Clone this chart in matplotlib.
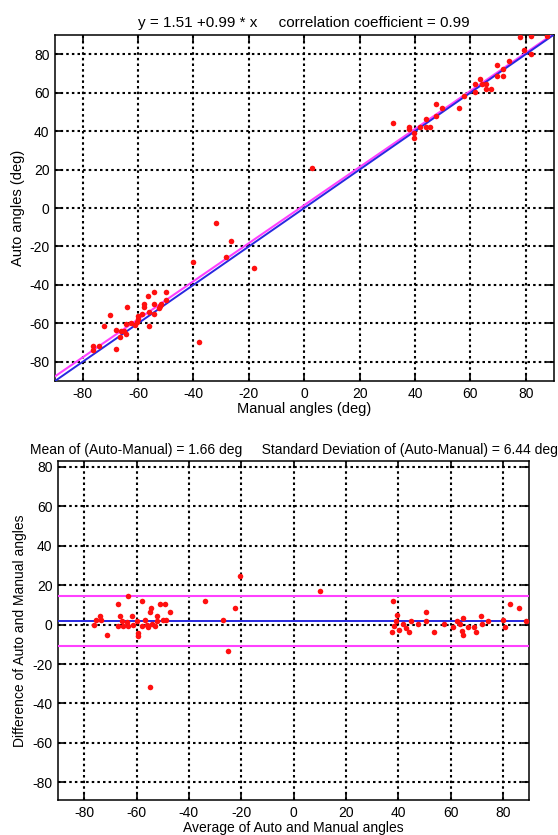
import matplotlib
matplotlib.use("Agg")
import matplotlib.pyplot as plt
import numpy as np

plt.rcParams['font.family'] = ['Liberation Sans', 'DejaVu Sans']

# ---------------- data: scatter (Manual vs Auto) ----------------
manual = [77.8, 81.7, 87.7, 79.5, 81.7, 73.8, 71.8, 69.6, 69.6, 71.8, 63.6, 61.5, 61.5,
          64.1, 65.7, 65.7, 67.5, 57.6, 55.8, 49.8, 47.7, 47.7, 44.1, 41.9, 44.1, 45.5,
          37.7, 37.7, 39.8, 39.8, 32.1, 2.8,
          -40.2, -28.3, -18.3, -38.0, -32.0, -26.4,
          -54.2, -50.0, -56.4, -58.0, -54.2, -51.8, -50.0, -58.0, -60.2, -56.0, -52.4,
          -54.2, -64.1, -70.0, -72.4, -68.1, -66.3, -64.5, -62.7, -60.5, -66.5, -64.5,
          -67.8, -76.2, -76.2, -74.2, -56.0, -58.5, -60.0, -65.0, -61.0, -52.0]
auto = [88.7, 89.5, 89.5, 82.2, 80.0, 76.5, 72.1, 74.2, 68.7, 68.7, 67.3, 64.3, 60.3,
        64.3, 64.3, 62.0, 62.0, 58.5, 52.1, 52.1, 54.3, 48.1, 46.4, 42.2, 42.2, 42.2,
        42.2, 40.9, 39.1, 36.5, 44.3, 20.9,
        -27.9, -25.4, -31.3, -69.6, -8.0, -17.0,
        -43.8, -43.8, -45.6, -50.0, -50.0, -50.0, -48.0, -51.7, -56.0, -54.0, -52.0,
        -55.0, -51.7, -55.5, -61.2, -63.5, -63.8, -60.3, -60.0, -59.5, -67.0, -65.6,
        -73.4, -71.7, -74.0, -71.7, -61.2, -55.0, -57.6, -64.0, -61.0, -51.0]

fit_intercept = 1.51
fit_slope = 0.99

# ---------------- data: Bland-Altman (average vs difference) ----------------
avg = [-20.4, -63.2, -67.0, -58.0, -51.0, -49.1, -47.2, -54.9, -54.3, -52.1, -66.3,
       -61.9, -74.0, -75.3, -73.4, -76.3, -67.0, -65.1, -63.2, -61.3, -58.0, -56.1,
       -54.2, -55.5, -53.0, -56.8, -49.8, -48.8, -65.7, -63.8, -52.3, -59.7, -71.2,
       -59.3, -59.3, -33.8, -22.4, -27.1, -24.9, -54.9, 10.1,
       37.9, 39.7, 39.2, 38.4, 37.6, 42.0, 43.0, 44.3, 44.8, 47.7, 50.7, 50.7, 53.7,
       57.6, 60.9, 62.6, 64.9, 63.7, 64.3, 64.7, 69.0, 69.8, 71.6, 72.0, 74.5, 82.8,
       86.0, 80.2, 80.9, 88.9, 40.5, 66.5]
diff = [24.5, 14.4, 10.2, 12.2, 10.2, 10.2, 6.4, 6.4, 8.4, 4.2, 4.2,
        4.2, 4.2, 2.5, 2.5, 0.0, -0.9, -0.9, -0.9, 0.0, -0.9, -0.3,
        0.3, -1.4, -0.9, 2.5, 2.5, 2.5, 1.7, 1.3, 1.7, 1.7, -5.4,
        -4.3, -5.9, 12.2, 8.4, 2.5, -13.2, -31.6, 17.0,
        12.2, 4.7, 2.0, -0.9, -3.8, 0.3, -1.7, -3.8, 2.0, 0.3, 6.4, 2.0, -3.8,
        0.3, -1.4, 2.0, 3.4, 0.3, -3.4, -5.4, -1.4, -3.8, 4.2, 0.3, 2.0, 10.2,
        8.4, 2.5, -1.4, 2.0, -2.5, -1.0]

mean_diff = 1.66
sd_diff = 6.44

ticks = [-80, -60, -40, -20, 0, 20, 40, 60, 80]
tick_labels = ['-80', '-60', '-40', '-20', '0', '20', '40', '60', '80']

title_top = "y = 1.51 +0.99 * x     correlation coefficient = 0.99"
title_bot = "Mean of (Auto-Manual) = 1.66 deg     Standard Deviation of (Auto-Manual) = 6.44 deg"

# ---------------- figure ----------------
W, H = 558, 835
fig = plt.figure(figsize=(W / 100, H / 100), dpi=100)

def px_axes(left, top, right, bottom):
    return fig.add_axes([left / W, 1 - bottom / H, (right - left) / W, (bottom - top) / H])

ax1 = px_axes(55, 35, 553.5, 381)
ax2 = px_axes(58, 461, 529, 800)

def style(ax, fs, ylim):
    ax.set_xlim(-90, 90)
    ax.set_ylim(*ylim)
    ax.set_xticks(ticks)
    ax.set_xticklabels(tick_labels)
    ax.set_yticks(ticks)
    ax.set_yticklabels(tick_labels)
    ax.grid(True, color='black', linestyle=(0, (1.2, 1.5)), linewidth=1.5)
    ax.set_axisbelow(True)
    ax.tick_params(direction='in', length=5, width=1.2, top=True, right=True,
                   labelsize=fs, pad=4, colors='black')
    for s in ax.spines.values():
        s.set_linewidth(1.1)
        s.set_color('black')

style(ax1, 10, (-90, 90))
xx = np.array([-90, 90])
ax1.plot(xx, fit_intercept + fit_slope * xx, color='#ff40ff', lw=1.5, zorder=3)
ax1.plot(xx, xx, color='#2828e0', lw=1.4, zorder=3)
ax1.plot(manual, auto, 'o', color='#ff1010', ms=4, mec='none', zorder=4)
ax1.set_title(title_top, fontsize=11, pad=6)
ax1.set_xlabel('Manual angles (deg)', fontsize=10.5, labelpad=1)
ax1.set_ylabel('Auto angles (deg)', fontsize=10.5, labelpad=3)

style(ax2, 10, (-89, 83))
ax2.axhline(mean_diff + 1.96 * sd_diff, color='#ff40ff', lw=1.5, zorder=3)
ax2.axhline(mean_diff - 1.96 * sd_diff, color='#ff40ff', lw=1.5, zorder=3)
ax2.axhline(mean_diff, color='#2828e0', lw=1.4, zorder=3)
ax2.plot(avg, diff, 'o', color='#ff1010', ms=4, mec='none', zorder=4)
ax2.set_title(title_bot, fontsize=10, pad=5)
ax2.set_xlabel('Average of Auto and Manual angles', fontsize=10, labelpad=1)
ax2.set_ylabel('Difference of Auto and Manual angles', fontsize=10, labelpad=4)

fig.savefig('out.png', dpi=100)
